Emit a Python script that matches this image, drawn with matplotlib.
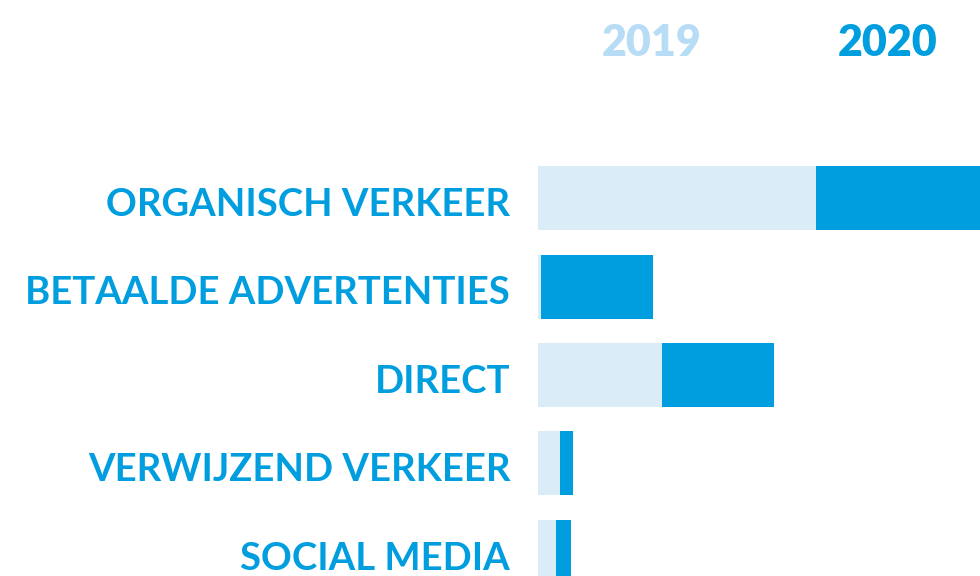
import matplotlib.pyplot as plt
from matplotlib.transforms import ScaledTranslation

# --- data ---
categories = ["ORGANISCH VERKEER", "BETAALDE ADVERTENTIES", "DIRECT",
              "VERWIJZEND VERKEER", "SOCIAL MEDIA"]
years = ["2019", "2020"]
values_2019 = [278, 3, 124, 22, 18]
values_2020 = [164, 112, 112, 13, 15]

LIGHT = "#dbecf9"
DARK = "#009edf"
YEAR_LIGHT = "#b7dcf5"
FONT = ["Lato", "DejaVu Sans"]

W, H = 980, 576
fig = plt.figure(figsize=(W / 100, H / 100), dpi=100)
fig.patch.set_facecolor("white")

# axes starts where the bars start, spans to the right edge
ax = fig.add_axes([538 / W, 0, (W - 538) / W, 1])
pos = list(range(len(categories)))
step = 88.5
ax.barh(pos, values_2019, height=64 / step, color=LIGHT, linewidth=0)
ax.barh(pos, values_2020, left=values_2019, height=64 / step, color=DARK, linewidth=0)

ax.set_xlim(0, W - 538)
ax.set_ylim((H - 198) / step, -198 / step)
ax.set_yticks(pos)
ax.set_yticklabels(categories, fontsize=27.5, fontweight="bold", color=DARK,
                   family=FONT)
ax.tick_params(axis="y", length=0, pad=20)
# nudge labels a few px down, like the reference
shift = ScaledTranslation(0, -4 / 100, fig.dpi_scale_trans)
for lab in ax.get_yticklabels():
    lab.set_transform(lab.get_transform() + shift)
ax.set_xticks([])
for s in ax.spines.values():
    s.set_visible(False)
ax.patch.set_alpha(0)

# year headers
fig.text(652 / W, 1 - 43 / H, years[0], ha="center", va="center", fontsize=31,
         fontweight="heavy", color=YEAR_LIGHT, family=FONT)
fig.text(888 / W, 1 - 43 / H, years[1], ha="center", va="center", fontsize=31,
         fontweight="heavy", color=DARK, family=FONT)

fig.savefig("out.png", dpi=100, facecolor="white")
